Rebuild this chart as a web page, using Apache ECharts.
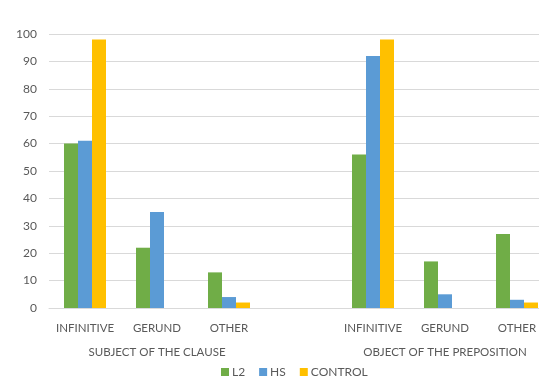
<!DOCTYPE html>
<html>
<head>
<meta charset="utf-8">
<style>
  html, body { margin: 0; padding: 0; background: #fff; overflow: hidden; }
  /* the source chart is cut off on the right, so the canvas is wider than the window */
  #chart { width: 560px; height: 382px; }
</style>
<script src="https://cdn.jsdelivr.net/npm/echarts@6/dist/echarts.min.js"></script>
</head>
<body>
<div id="chart"></div>
<script>
// categories: two groups of three, with an empty slot between them
const categories = ['INFINITIVE', 'GERUND', 'OTHER', '', 'INFINITIVE', 'GERUND', 'OTHER'];
const groupLabels = ['SUBJECT OF THE CLAUSE', 'OBJECT OF THE PREPOSITION'];
const l2Data = [60, 22, 13, '-', 56, 17, 27];
const hsData = [61, 35, 4, '-', 92, 5, 3];
const controlData = [98, 0, 2, '-', 98, 0, 2];
const yTicks = { min: 0, max: 100, interval: 10 };

const textColor = '#595959';
const fontFamily = 'Lato, sans-serif';
const fontSize = 11.5;

const chart = echarts.init(document.getElementById('chart'));

chart.setOption({
  animation: false,
  color: ['#70AD47', '#5B9BD5', '#FFC000'],
  grid: {
    left: 49,
    right: 7,
    top: 34,
    bottom: 74
  },
  legend: {
    left: 221,
    top: 366,
    padding: 0,
    itemWidth: 8,
    itemHeight: 8,
    itemGap: 14,
    icon: 'rect',
    textStyle: { color: textColor, fontFamily: fontFamily, fontSize: 12, padding: [0, 0, 0, -2] },
    data: ['L2', 'HS', 'CONTROL']
  },
  xAxis: {
    type: 'category',
    data: categories,
    axisLine: { lineStyle: { color: '#D9D9D9' } },
    axisTick: { show: false },
    axisLabel: {
      interval: 0,
      margin: 8,
      color: textColor,
      fontFamily: fontFamily,
      fontSize: fontSize,
      formatter: function (value, idx) {
        // the middle item of each group carries the group title underneath
        if (idx === 1) return '{a|' + value + '}\n{a|' + groupLabels[0] + '}';
        if (idx === 5) return '{a|' + value + '}\n{a|' + groupLabels[1] + '}';
        return '{a|' + value + '}';
      },
      rich: {
        a: { lineHeight: 24, color: textColor, fontFamily: fontFamily, fontSize: fontSize }
      }
    }
  },
  yAxis: {
    type: 'value',
    min: yTicks.min,
    max: yTicks.max,
    interval: yTicks.interval,
    axisLine: { show: false },
    axisTick: { show: false },
    axisLabel: { color: textColor, fontFamily: fontFamily, fontSize: 12, margin: 12 },
    splitLine: { lineStyle: { color: '#D9D9D9' } }
  },
  series: [{
    name: 'L2',
    type: 'bar',
    barWidth: 14,
    barGap: '0%',
    data: l2Data
  }, {
    name: 'HS',
    type: 'bar',
    barWidth: 14,
    data: hsData
  }, {
    name: 'CONTROL',
    type: 'bar',
    barWidth: 14,
    data: controlData
  }]
});
</script>
</body>
</html>
